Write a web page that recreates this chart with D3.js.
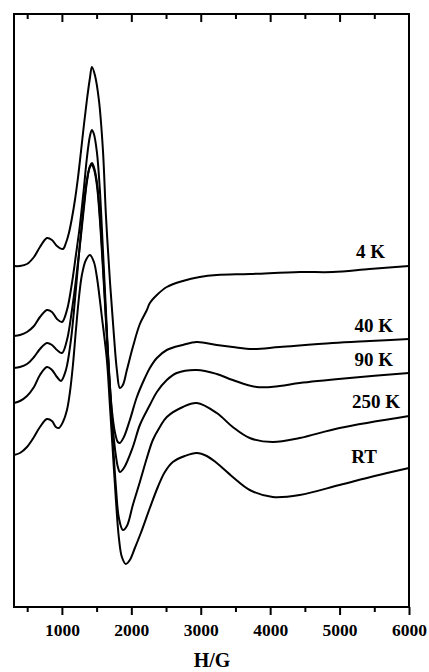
<!DOCTYPE html>
<html>
<head>
<meta charset="utf-8">
<script src="https://cdn.jsdelivr.net/npm/d3@7"></script>
<style>
  html, body { margin: 0; padding: 0; background: #fff; }
  svg { display: block; }
  text { font-family: "Liberation Serif", "Times New Roman", serif; font-weight: bold; fill: #000; }
</style>
</head>
<body>
<svg id="chart" width="429" height="672"></svg>
<script>
// ---- data: [field H (G), EPR signal (arbitrary units)] ----
const spectrum4K = [[310,341],[396,341],[497,343],[598,350],[684,360],[785,369],[857,367],[929,361],[1015,358],[1058,364],[1101,374],[1145,389],[1188,407],[1231,429],[1274,455],[1317,482],[1360,507],[1404,529],[1432,540],[1475,532],[1533,507],[1591,457],[1634,392],[1691,327],[1749,272],[1792,237],[1835,219],[1878,222],[1936,237],[2022,260],[2123,283],[2224,297],[2267,304],[2368,312],[2511,320],[2742,326],[2986,330],[3231,332],[3706,333],[4425,335],[4900,335],[5432,338],[6000,341]];
const spectrum40K = [[310,271],[396,272],[497,275],[598,281],[684,290],[785,297],[857,295],[929,288],[1001,285],[1073,297],[1145,324],[1202,352],[1260,382],[1317,419],[1360,449],[1404,471],[1432,477],[1461,473],[1504,455],[1547,417],[1591,357],[1634,297],[1677,237],[1720,197],[1763,175],[1806,165],[1835,164],[1893,170],[1979,187],[2080,210],[2195,229],[2267,239],[2368,249],[2511,257],[2742,262],[2943,265],[3231,262],[3461,260],[3749,258],[4137,260],[4900,264],[5432,266],[6000,268]];
const spectrum90K = [[310,239],[396,240],[497,243],[598,250],[684,258],[785,264],[857,262],[929,257],[1001,254],[1073,267],[1145,297],[1202,327],[1260,362],[1317,399],[1360,425],[1404,441],[1432,444],[1461,440],[1504,425],[1547,392],[1605,327],[1648,272],[1691,222],[1734,179],[1778,151],[1806,140],[1835,135],[1893,139],[2022,160],[2123,182],[2267,202],[2368,215],[2511,227],[2655,234],[2943,237],[3231,233],[3461,227],[3806,220],[4137,221],[4425,224],[5144,229],[6000,234]];
const spectrum250K = [[310,204],[396,206],[497,211],[598,220],[684,232],[785,240],[857,237],[929,230],[986,226],[1058,237],[1130,267],[1188,307],[1245,352],[1303,394],[1360,427],[1404,440],[1432,442],[1461,438],[1504,422],[1547,387],[1605,322],[1662,252],[1720,182],[1778,120],[1821,89],[1878,77],[1936,81],[2022,102],[2123,125],[2224,149],[2310,167],[2411,180],[2511,190],[2742,200],[2943,204],[3231,194],[3461,180],[3706,169],[4037,165],[4425,169],[5000,179],[6000,191]];
const spectrumRT = [[310,152],[396,154],[497,160],[598,170],[684,180],[785,188],[857,186],[914,180],[957,179],[1015,185],[1073,197],[1116,215],[1159,242],[1202,277],[1245,309],[1288,332],[1346,347],[1404,352],[1461,345],[1504,330],[1576,290],[1648,247],[1691,202],[1734,155],[1778,107],[1821,69],[1864,50],[1921,43],[1979,47],[2051,59],[2137,74],[2267,99],[2382,120],[2483,135],[2598,145],[2770,151],[2943,154],[3087,151],[3231,144],[3461,130],[3706,117],[4037,110],[4425,112],[5000,122],[5504,131],[6000,139]];

const seriesNames = ["4 K", "40 K", "90 K", "250 K", "RT"];
const seriesData = [spectrum4K, spectrum40K, spectrum90K, spectrum250K, spectrumRT];
// label anchor: [H at right end of label, signal at baseline]
const labelAnchors = [[5654, 349], [5770, 275], [5770, 241], [5870, 199], [5539, 144]];

const majorTicks = [1000, 2000, 3000, 4000, 5000, 6000];
const minorTicks = [500, 1500, 2500, 3500, 4500, 5500];
const xTitle = "H/G";

// ---- layout ----
const svg = d3.select("#chart");
const mLeft = 14, mRight = 409, mTop = 14, mBottom = 607;

const x = d3.scaleLinear().domain([310, 6000]).range([mLeft, mRight]);
const y = d3.scaleLinear().domain([0, 593]).range([mBottom, mTop]);

// curves
const line = d3.line()
  .x(d => x(d[0]))
  .y(d => y(d[1]))
  .curve(d3.curveCatmullRom.alpha(0.5));

svg.append("g")
  .selectAll("path")
  .data(seriesData)
  .join("path")
  .attr("d", line)
  .attr("fill", "none")
  .attr("stroke", "#000")
  .attr("stroke-width", 2)
  .attr("stroke-linejoin", "round");

// frame
svg.append("rect")
  .attr("x", mLeft).attr("y", mTop)
  .attr("width", mRight - mLeft).attr("height", mBottom - mTop)
  .attr("fill", "none").attr("stroke", "#000").attr("stroke-width", 2);

function styleTicks(g) {
  g.select(".domain").remove();
  g.selectAll("line").attr("stroke", "#000").attr("stroke-width", 2);
}

// bottom axis: major with labels
const gMajor = svg.append("g")
  .attr("transform", `translate(0,${mBottom})`)
  .call(d3.axisBottom(x).tickValues(majorTicks).tickSize(8).tickFormat(d3.format("d")));
styleTicks(gMajor);
gMajor.selectAll("text")
  .attr("y", 29).attr("dy", null)
  .style("font-size", "17.5px")
  .style("font-family", "'Liberation Serif', serif")
  .style("font-weight", "bold")
  .attr("fill", "#000");

// bottom axis: minor ticks
const gMinor = svg.append("g")
  .attr("transform", `translate(0,${mBottom})`)
  .call(d3.axisBottom(x).tickValues(minorTicks).tickSize(5).tickFormat(""));
styleTicks(gMinor);

// top axis (inward ticks)
const gTopMajor = svg.append("g")
  .attr("transform", `translate(0,${mTop})`)
  .call(d3.axisBottom(x).tickValues(majorTicks.filter(d => d < 6000)).tickSize(8).tickFormat(""));
styleTicks(gTopMajor);
const gTopMinor = svg.append("g")
  .attr("transform", `translate(0,${mTop})`)
  .call(d3.axisBottom(x).tickValues(minorTicks).tickSize(5).tickFormat(""));
styleTicks(gTopMinor);

// axis title
svg.append("text")
  .attr("x", 212).attr("y", 667)
  .attr("text-anchor", "middle")
  .style("font-size", "20px")
  .text(xTitle);

// series labels
svg.append("g")
  .selectAll("text")
  .data(seriesNames)
  .join("text")
  .attr("x", (d, i) => x(labelAnchors[i][0]))
  .attr("y", (d, i) => y(labelAnchors[i][1]))
  .attr("text-anchor", "end")
  .style("font-size", "19px")
  .text(d => d);
</script>
</body>
</html>
